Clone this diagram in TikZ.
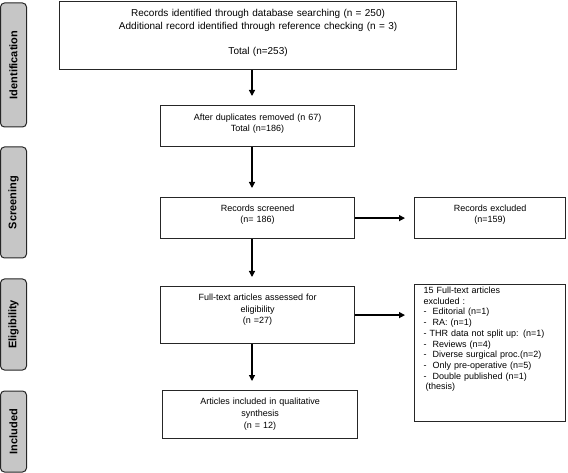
\documentclass[tikz,border=0pt]{standalone}
\usepackage{fontspec}
\setmainfont{Liberation Sans}
\usetikzlibrary{arrows.meta,positioning}

\begin{document}
\begin{tikzpicture}[
    x=1pt, y=-1pt,
    block/.style={rectangle, draw=black!85, line width=1.2pt,
                inner sep=0pt, align=center, anchor=north west,
                font=\fontsize{9}{11}\selectfont},
    phase/.style={rectangle, draw=black!85, rounded corners=4pt, fill=gray!45,
                line width=1pt, rotate=90, minimum height=26pt,
                font=\bfseries\fontsize{11}{13}\selectfont},
    link/.style={->, line width=1.2pt, shorten >=9pt},
    >={Triangle[length=6pt,width=6pt]}
]
\useasboundingbox (0,0) rectangle (568,473);

\node[phase, minimum width=124pt] (ident) at (13.5,65) {Identification};
\node[phase, minimum width=111pt] (screen) at (13.5,202.5) {Screening};
\node[phase, minimum width=91pt] (elig) at (13.5,324.5) {Eligibility};
\node[phase, minimum width=81pt] (incl) at (13.5,431.5) {Included};

\node[block, text width=397pt, text height=15pt, text depth=53.2pt,
      font=\fontsize{10}{13}\selectfont] (total) at (59,0.8)
    {Records identified through database searching (n = 250)\\
     Additional record identified through reference checking (n = 3)\\[12pt]
     Total (n=253)};
\node[block, text width=194pt, text height=15pt, text depth=26pt] (dedup) at (160,105)
    {After duplicates removed (n 67)\\Total (n=186)};
\node[block, text width=194pt, text height=14pt, text depth=27pt] (screened) at (160,197)
    {Records screened\\(n= 186)};
\node[block, text width=151pt, text height=14pt, text depth=27pt] (excluded) at (414,197)
    {Records excluded\\(n=159)};
\node[block, text width=194pt, text height=14pt, text depth=43pt,
      font=\fontsize{9}{11.5}\selectfont] (fulltext) at (160,286)
    {Full-text articles assessed for\\eligibility\\(n =27)};
\node[block, align=left, inner xsep=9pt, text width=133pt, text height=9pt, text depth=128pt,
      font=\fontsize{9}{10.7}\selectfont] (reasons) at (414,284)
    {15 Full-text articles\\
     excluded :\\
     -\ \ Editorial (n=1)\\
     -\ \ RA: (n=1)\\
     - THR data not split up: (n=1)\\
     -\ \ Reviews (n=4)\\
     -\ \ Diverse surgical proc.(n=2)\\
     -\ \ Only pre-operative (n=5)\\
     -\ \ Double published (n=1)\\
     \hspace{2pt}(thesis)};
\node[block, text width=195pt, text height=14pt, text depth=34pt,
      font=\fontsize{9}{12}\selectfont] (included) at (162,390)
    {Articles included in qualitative\\synthesis\\(n = 12)};

\coordinate (spine) at (252,0);
\draw[link] (total.south -| spine) -- (dedup.north -| spine);
\draw[link] (dedup.south -| spine) -- (screened.north -| spine);
\draw[link] (screened.south -| spine) -- (fulltext.north -| spine);
\draw[link] (fulltext.south -| spine) -- (included.north -| spine);
\draw[link] (screened.east) -- (excluded.west);
\draw[link] (fulltext.east) -- (fulltext.east -| reasons.west);
\end{tikzpicture}
\end{document}
